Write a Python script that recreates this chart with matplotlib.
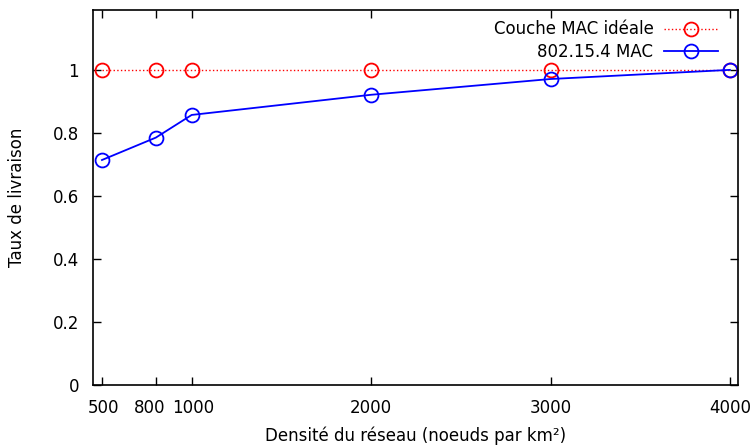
import matplotlib
matplotlib.use('Agg')
import matplotlib.pyplot as plt
from matplotlib.transforms import ScaledTranslation

# densities (noeuds par km2)
densite = [500, 800, 1000, 2000, 3000, 4000]
ideal = [1, 1, 1, 1, 1, 1]
mac_802154 = [0.714, 0.785, 0.857, 0.921, 0.971, 1.0]

yticks = [0, 0.2, 0.4, 0.6, 0.8, 1]
ytick_labels = ['0', '0.2', '0.4', '0.6', '0.8', '1']

plt.rcParams['font.family'] = ['DejaVu Sans']
plt.rcParams['font.size'] = 12

fig = plt.figure(figsize=(7.55, 4.47), dpi=100)
ax = fig.add_axes([93 / 755, 1 - 385 / 447, (738 - 93) / 755, (385 - 10) / 447])

ax.plot(densite, ideal, color='red', linestyle=':', linewidth=1.0,
        marker='o', markersize=10, markerfacecolor='none', markeredgewidth=1.3,
        label='Couche MAC idéale')
ax.plot(densite, mac_802154, color='blue', linestyle='-', linewidth=1.3,
        marker='o', markersize=10, markerfacecolor='none', markeredgewidth=1.3,
        label='802.15.4 MAC')

ax.set_xlim(450, 4045)
ax.set_ylim(0, 1.19)
ax.set_xticks(densite)
ax.set_xticklabels([str(d) for d in densite])
ax.set_yticks(yticks)
ax.set_yticklabels(ytick_labels)
ax.tick_params(direction='in', top=True, right=True, length=6, width=1, pad=10)
for s in ax.spines.values():
    s.set_linewidth(1.2)

# nudge crowded labels apart like the original
shifts = {'500': 2, '800': -6, '1000': 2}
for lbl in ax.get_xticklabels():
    dx = shifts.get(lbl.get_text(), 0)
    if dx:
        lbl.set_transform(lbl.get_transform() + ScaledTranslation(dx / 100, 0, fig.dpi_scale_trans))

ax.set_xlabel('Densité du réseau (noeuds par km²)', labelpad=7)
ax.set_ylabel('Taux de livraison', labelpad=19)

ax.legend(loc='upper right', bbox_to_anchor=(0.98, 0.99), frameon=False,
          markerfirst=False, handlelength=3.25, borderaxespad=0,
          labelspacing=0.25, handletextpad=0.65)

fig.savefig('out.png', dpi=100)
